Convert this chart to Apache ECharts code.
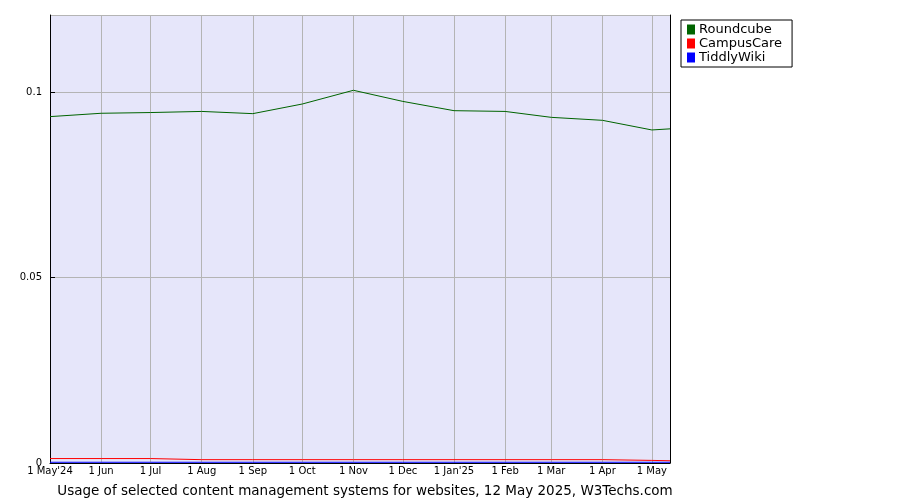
<!DOCTYPE html><html><head><meta charset="utf-8"><script src="https://cdn.jsdelivr.net/npm/echarts@6/dist/echarts.min.js"></script></head><body style="margin:0"><div id="c" style="width:900px;height:500px"></div><script>
const dates=['2024-05-01','2024-06-01','2024-07-01','2024-08-01','2024-09-01','2024-10-01','2024-11-01','2024-12-01','2025-01-01','2025-02-01','2025-03-01','2025-04-01','2025-05-01','2025-05-12'];
const roundcube=[0.0934,0.0943,0.0945,0.0948,0.0942,0.0968,0.1005,0.0975,0.0950,0.0948,0.0932,0.0924,0.0898,0.0901];
const campuscare=[0.0012,0.0012,0.0012,0.0009,0.0009,0.0009,0.0009,0.0009,0.0009,0.0009,0.0009,0.0009,0.0007,0.0006];
const tiddlywiki=[0.0002,0.0002,0.0002,0.0002,0.0002,0.0002,0.0002,0.0002,0.0002,0.0002,0.0002,0.0002,0.0002,0.0002];
const mon=['Jan','Feb','Mar','Apr','May','Jun','Jul','Aug','Sep','Oct','Nov','Dec'];
const mk=(a)=>dates.map((d,i)=>[d,a[i]]);
const F='DejaVu Sans';
const c=echarts.init(document.getElementById('c'));
c.setOption({animation:false,
grid:{left:50,right:230,top:15,bottom:37,backgroundColor:'#e6e6fa',show:true,borderWidth:0},
title:{text:'Usage of selected content management systems for websites, 12 May 2025, W3Techs.com',left:360,textAlign:'center',top:479,textStyle:{fontFamily:F,fontSize:13.5,fontWeight:'normal',color:'#000'}},
legend:{orient:'vertical',left:681,top:20,itemWidth:8,itemHeight:10,itemGap:1,padding:[3,10,3,6],borderColor:'#000',borderWidth:1,icon:'rect',textStyle:{fontFamily:F,fontSize:13,color:'#000',padding:[0,0,0,-1]},data:['Roundcube','CampusCare','TiddlyWiki']},
xAxis:{type:'time',min:'2024-05-01',max:'2025-05-12',splitNumber:12,
axisLine:{onZero:false,lineStyle:{color:'#000'}},axisTick:{show:false},
axisLabel:{fontFamily:F,fontSize:10,color:'#000',margin:3,hideOverlap:false,showMaxLabel:false,formatter:v=>{const d=new Date(v);const m=d.getMonth(),y=d.getFullYear();if(d.getDate()!==1)return '';let s='1 '+mon[m];if(m===0||(m===4&&y===2024))s+="'"+String(y).slice(2);return s;}},
splitLine:{show:true,lineStyle:{color:'#b4b4b4'}}},
yAxis:[{type:'value',min:0,max:0.1208,interval:0.05,axisLine:{show:true,lineStyle:{color:'#000'}},axisTick:{show:true,length:-5,lineStyle:{color:'#000'}},
axisLabel:{fontFamily:F,fontSize:10,color:'#000',showMaxLabel:false},splitLine:{lineStyle:{color:'#b4b4b4'}}},
{type:'value',position:'right',min:0,max:0.1208,interval:0.05,axisLine:{show:true,lineStyle:{color:'#000'}},axisTick:{show:false},axisLabel:{show:false},splitLine:{show:false}}],
series:[
{name:'Roundcube',type:'line',data:mk(roundcube),symbol:'none',color:'#006400',lineStyle:{width:1}},
{name:'CampusCare',type:'line',data:mk(campuscare),symbol:'none',color:'#ff0000',lineStyle:{width:1}},
{name:'TiddlyWiki',type:'line',data:mk(tiddlywiki),symbol:'none',color:'#0000ff',lineStyle:{width:1}}]});
</script></body></html>
